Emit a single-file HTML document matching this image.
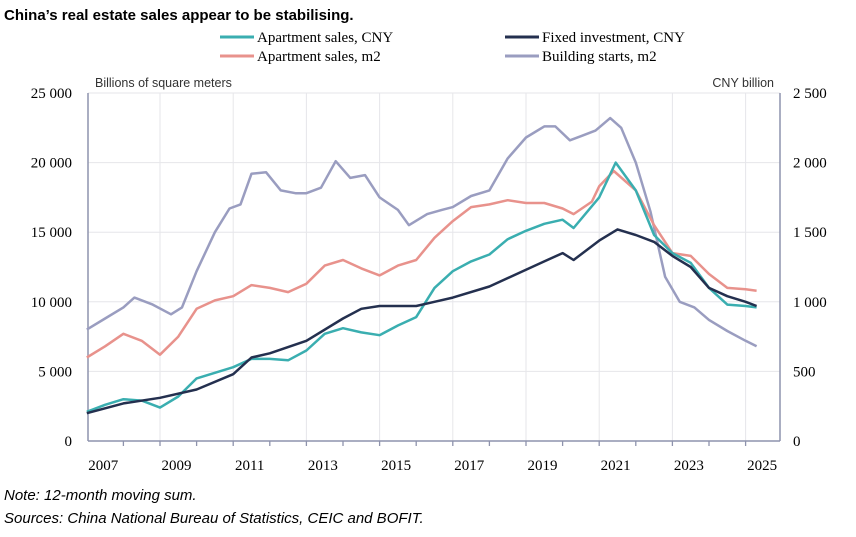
<!DOCTYPE html>
<html><head><meta charset="utf-8"><style>
body{margin:0;background:#fff;width:856px;height:532px;overflow:hidden;font-family:"Liberation Sans",sans-serif}
svg text{font-family:"Liberation Serif",serif}
</style></head><body>
<svg width="856" height="532">
<text x="4" y="20" style="font-family:'Liberation Sans',sans-serif;font-weight:bold;font-size:15px">China’s real estate sales appear to be stabilising.</text>
<g id="legend"></g>
<text x="95" y="87" style="font-family:'Liberation Sans',sans-serif;font-size:12.5px" fill="#333">Billions of square meters</text>
<text x="774" y="87" text-anchor="end" style="font-family:'Liberation Sans',sans-serif;font-size:12.5px" fill="#333">CNY billion</text>
<g id="grid"></g><g id="axes"></g><g id="series"></g>
<text x="4" y="500" style="font-family:'Liberation Sans',sans-serif;font-style:italic;font-size:15px">Note: 12-month moving sum.</text>
<text x="4" y="523" style="font-family:'Liberation Sans',sans-serif;font-style:italic;font-size:15px">Sources: China National Bureau of Statistics, CEIC and BOFIT.</text>
</svg>
<script>
const leftTicks=[0,5000,10000,15000,20000,25000];
const leftTickLabels=["0","5 000","10 000","15 000","20 000","25 000"];
const rightTickLabels=["0","500","1 000","1 500","2 000","2 500"];
const yearLabels=[2007,2009,2011,2013,2015,2017,2019,2021,2023,2025];
const salesCnyT=[2007,2007.5,2008,2008.5,2009,2009.5,2010,2010.5,2011,2011.5,2012,2012.5,2013,2013.5,2014,2014.5,2015,2015.5,2016,2016.5,2017,2017.5,2018,2018.5,2019,2019.5,2020,2020.3,2021,2021.45,2022,2022.5,2023,2023.5,2024,2024.5,2025,2025.3];
const salesCnyV=[2100,2600,3000,2900,2400,3200,4500,4900,5300,5900,5900,5800,6500,7700,8100,7800,7600,8300,8900,11000,12200,12900,13400,14500,15100,15600,15900,15300,17500,20000,18000,14800,13500,12800,11000,9800,9700,9600];
const investT=[2007,2008,2009,2010,2011,2011.5,2012,2013,2014,2014.5,2015,2016,2016.5,2017,2018,2019,2019.5,2020,2020.3,2021,2021.5,2022,2022.5,2023,2023.5,2024,2024.5,2025,2025.3];
const investV=[2000,2700,3100,3700,4800,6000,6300,7200,8800,9500,9700,9700,10000,10300,11100,12300,12900,13500,13000,14400,15200,14800,14300,13300,12500,11000,10400,10000,9700];
const salesM2T=[2007,2007.5,2008,2008.5,2009,2009.5,2010,2010.5,2011,2011.5,2012,2012.5,2013,2013.5,2014,2014.5,2015,2015.5,2016,2016.5,2017,2017.5,2018,2018.5,2019,2019.5,2020,2020.3,2020.8,2021,2021.4,2022,2022.5,2023,2023.5,2024,2024.5,2025,2025.3];
const salesM2V=[6000,6800,7700,7200,6200,7500,9500,10100,10400,11200,11000,10700,11300,12600,13000,12400,11900,12600,13000,14600,15800,16800,17000,17300,17100,17100,16700,16300,17200,18300,19400,18000,15500,13500,13300,12000,11000,10900,10800];
const startsT=[2007,2007.5,2008,2008.3,2008.8,2009.3,2009.6,2010,2010.5,2010.9,2011.2,2011.5,2011.9,2012.3,2012.7,2013,2013.4,2013.8,2014.2,2014.6,2015,2015.5,2015.8,2016.3,2016.7,2017,2017.5,2018,2018.5,2019,2019.5,2019.8,2020.2,2020.5,2020.9,2021.3,2021.6,2022,2022.4,2022.8,2023.2,2023.6,2024,2024.5,2025,2025.3];
const startsV=[8000,8800,9600,10300,9800,9100,9600,12200,15000,16700,17000,19200,19300,18000,17800,17800,18200,20100,18900,19100,17500,16600,15500,16300,16600,16800,17600,18000,20300,21800,22600,22600,21600,21900,22300,23200,22500,20000,16500,11800,10000,9600,8700,7900,7200,6800];

const NS="http://www.w3.org/2000/svg";
const X0=88,X1=780,Y0=441,Y1=93;
const xs=t=>160+(t-2009)*36.6;
const ys=v=>Y0-v/25000*(Y0-Y1);
function mk(tag,attrs,parent){const e=document.createElementNS(NS,tag);for(const k in attrs)e.setAttribute(k,attrs[k]);document.getElementById(parent).appendChild(e);return e;}
leftTicks.forEach((v,i)=>{
  if(i>0){const g=mk('line',{x1:X0,x2:X1,y1:ys(v),y2:ys(v),stroke:'#e6e6ea','stroke-width':1},'grid');
  
  }
  const l=mk('text',{x:72,y:ys(v)+5,'text-anchor':'end','font-size':15},'axes');l.textContent=leftTickLabels[i];
  
  
  const r=mk('text',{x:793,y:ys(v)+5,'font-size':15},'axes');r.textContent=rightTickLabels[i];
  
  
});
for(let y=2008;y<=2025;y++){
  if(y%2===1){const g=mk('line',{x1:xs(y),x2:xs(y),y1:Y1,y2:Y0,stroke:'#e6e6ea'},'grid');
  
  }
  const t=mk('line',{x1:xs(y),x2:xs(y),y1:Y0,y2:Y0+5,stroke:'#8e93ad','stroke-width':1.3},'axes');
  
  
}
yearLabels.forEach(y=>{const t=mk('text',{x:xs(y+0.45),y:470,'text-anchor':'middle','font-size':15},'axes');t.textContent=y;
  
  });
[[X0,Y1,X0,Y0],[X1,Y1,X1,Y0],[X0,Y0,X1,Y0]].forEach(a=>{const l=mk('line',{x1:a[0],y1:a[1],x2:a[2],y2:a[3],stroke:'#8e93ad','stroke-width':1.5},'axes');
  
  });
const series=[[startsT,startsV,'#9a9dc0','series-building-starts'],[salesM2T,salesM2V,'#e8928c','series-apartment-sales-m2'],[salesCnyT,salesCnyV,'#3aaeb0','series-apartment-sales-cny'],[investT,investV,'#24304f','series-fixed-investment']];
series.forEach(s=>{const p=mk('polyline',{points:s[0].map((t,i)=>xs(t).toFixed(1)+','+ys(s[1][i]).toFixed(1)).join(' '),fill:'none',stroke:s[2],'stroke-width':2.5,'stroke-linejoin':'round'},'series');
  
  });
const leg=[[220,37,'#3aaeb0','Apartment sales, CNY'],[505,37,'#24304f','Fixed investment, CNY'],[220,56,'#e8928c','Apartment sales, m2'],[505,56,'#9a9dc0','Building starts, m2']];
leg.forEach(l=>{const ln=mk('line',{x1:l[0],x2:l[0]+34,y1:l[1],y2:l[1],stroke:l[2],'stroke-width':3},'legend');
  
  
  const t=mk('text',{x:l[0]+37,y:l[1]+5,'font-size':15},'legend');t.textContent=l[3];
  
  });
</script>
</body></html>
